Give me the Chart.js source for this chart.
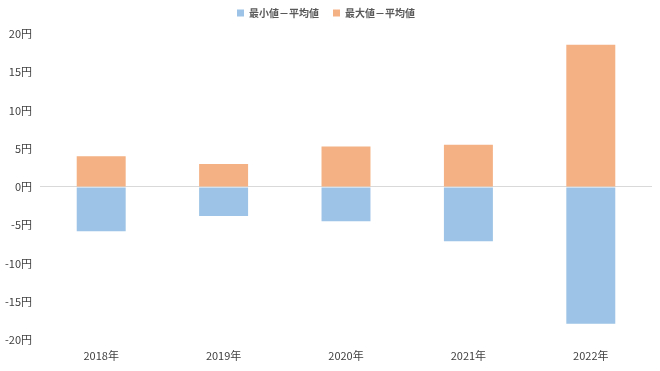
<!DOCTYPE html>
<html>
<head>
<meta charset="utf-8">
<script src="https://cdn.jsdelivr.net/npm/chart.js@4"></script>
<style>
  html, body { margin: 0; padding: 0; background: #fff; }
  #wrap { width: 660px; height: 371px; position: relative; }
</style>
</head>
<body>
<div id="wrap"><canvas id="chart"></canvas></div>
<script>
// ── データ ───────────────────────────────────────────────
var years       = ["2018年", "2019年", "2020年", "2021年", "2022年"];
var minMinusAvg = [-5.8, -3.8, -4.5, -7.1, -17.9];  // 最小値－平均値
var maxMinusAvg = [4.0, 3.0, 5.3, 5.5, 18.6];       // 最大値－平均値
var yTicks      = [-20, -15, -10, -5, 0, 5, 10, 15, 20];

var FONT = "'Noto Sans CJK JP', 'Noto Sans', sans-serif";

// 凡例の高さを固定（凡例とグラフの間隔を広げる）
var legendHeight = {
  id: "legendHeight",
  beforeInit: function(chart) {
    var origFit = chart.legend.fit;
    chart.legend.fit = function() {
      origFit.bind(chart.legend)();
      this.height = 40;
    };
  },
};

new Chart(document.getElementById("chart").getContext("2d"), {
  type: "bar",
  data: {
    labels: years,
    datasets: [
      { label: "最小値－平均値", data: minMinusAvg, backgroundColor: "#9dc3e6", borderWidth: 0 },
      { label: "最大値－平均値", data: maxMinusAvg, backgroundColor: "#f4b183", borderWidth: 0 },
    ],
  },
  options: {
    responsive: true, maintainAspectRatio: false, animation: false,
    layout: { padding: { left: 0, right: 8, top: -6, bottom: 8 } },
    datasets: { bar: { categoryPercentage: 0.4, barPercentage: 1.0 } },
    plugins: {
      legend: {
        position: "top",
        labels: {
          boxWidth: 7, boxHeight: 7, padding: 14,
          color: "#595959",
          font: { family: FONT, size: 10, weight: "bold" },
        },
      },
      tooltip: { enabled: false },
    },
    scales: {
      x: {
        stacked: true,
        grid: { display: false },
        border: { display: false },
        ticks: { color: "#404040", padding: 1, font: { family: FONT, size: 11 } },
      },
      y: {
        stacked: true,
        min: -20, max: 20,
        afterBuildTicks: function(axis) { axis.ticks = yTicks.map(function(v) { return { value: v }; }); },
        afterFit: function(axis) { axis.width = 40; },
        grid: {
          drawTicks: false,
          color: function(ctx) { return ctx.tick && ctx.tick.value === 0 ? "#d9d9d9" : "rgba(0,0,0,0)"; },
        },
        border: { display: false },
        ticks: {
          color: "#404040", padding: 8,
          font: { family: FONT, size: 11 },
          callback: function(v) { return v + "円"; },
        },
      },
    },
  },
  plugins: [legendHeight],
});
</script>
</body>
</html>
